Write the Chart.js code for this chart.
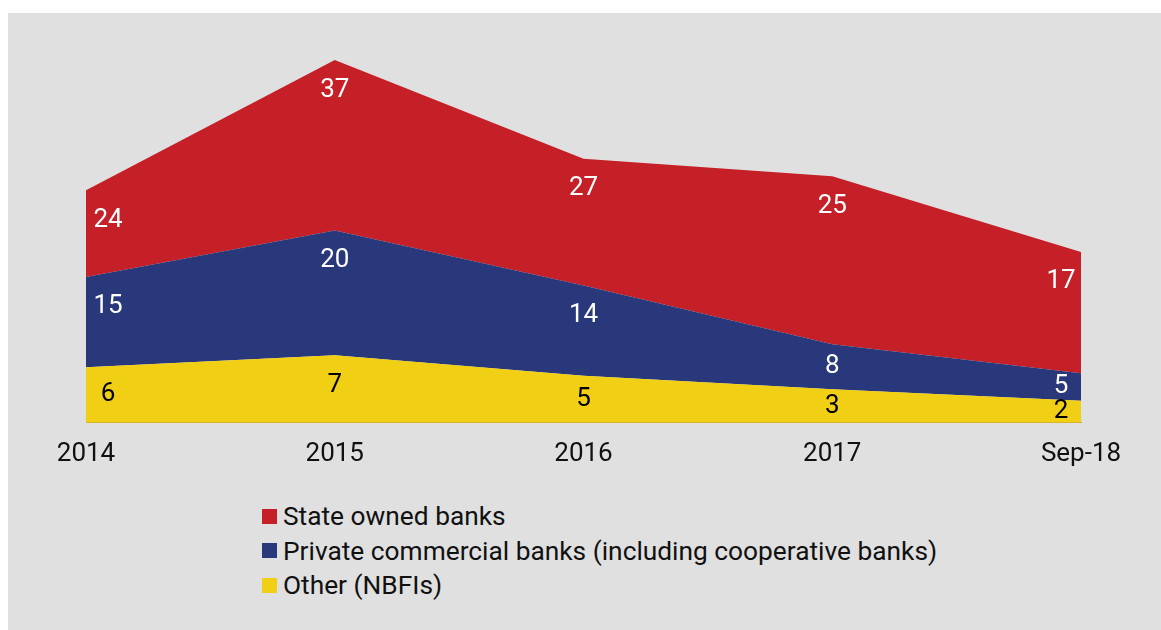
<!DOCTYPE html>
<html>
<head>
<meta charset="utf-8">
<script src="https://cdn.jsdelivr.net/npm/chart.js@4.4.1/dist/chart.umd.min.js"></script>
<style>
html,body{margin:0;padding:0;background:#ffffff;width:1161px;height:630px;overflow:hidden;font-family:Roboto,"Noto Sans",sans-serif}
#panel{position:absolute;left:8px;top:13px;width:1153px;height:617px;background:#e0e0e0}
#chart{position:absolute;left:0;top:0}
#legend{position:absolute;left:254px;top:488px}
.row{position:absolute;left:0;height:30px;display:flex;align-items:center;white-space:nowrap;font-size:26.3px;color:#111}
.sw{width:15px;height:15px;margin-right:6px;flex:none}
</style>
</head>
<body>
<div id="panel">
  <canvas id="chart" width="1153" height="487"></canvas>
  <div id="legend"></div>
</div>
<script>
// Categories (x axis tick labels)
const categories = ['2014', '2015', '2016', '2017', 'Sep-18'];

// Plotted band heights (arbitrary units)
const otherValues   = [11.1, 13.5, 9.4, 6.7, 4.4];
const privateValues = [18.0, 24.9, 18.0, 9.0, 5.5];
const stateValues   = [17.3, 34.0, 25.3, 33.5, 24.2];

// Printed data labels
const otherLabels   = [6, 7, 5, 3, 2];
const privateLabels = [15, 20, 14, 8, 5];
const stateLabels   = [24, 37, 27, 25, 17];

// Series names
const seriesNames = ['Other (NBFIs)', 'Private commercial banks (including cooperative banks)', 'State owned banks'];

const colors = { other: '#f0cf15', private: '#29387b', state: '#c52028' };

const datasets = [
  { label: seriesNames[0], data: otherValues, backgroundColor: colors.other, fill: 'origin', labelsText: otherLabels, labelColor: '#000000' },
  { label: seriesNames[1], data: privateValues, backgroundColor: colors.private, fill: '-1', labelsText: privateLabels, labelColor: '#ffffff' },
  { label: seriesNames[2], data: stateValues, backgroundColor: colors.state, fill: '-1', labelsText: stateLabels, labelColor: '#ffffff' }
];
datasets.forEach(d => { d.borderWidth = 0; d.pointRadius = 0; d.pointHoverRadius = 0; d.tension = 0; d.borderColor = d.backgroundColor; });

const labelPlugin = {
  id: 'bandLabels',
  afterDatasetsDraw(chart) {
    const ctx = chart.ctx;
    const yScale = chart.scales.y;
    const base = yScale.getPixelForValue(0);
    ctx.save();
    ctx.font = '26px Roboto, "Noto Sans", sans-serif';
    ctx.textAlign = 'center';
    ctx.textBaseline = 'middle';
    chart.data.datasets.forEach((ds, i) => {
      const meta = chart.getDatasetMeta(i);
      const prev = i > 0 ? chart.getDatasetMeta(i - 1) : null;
      meta.data.forEach((pt, j) => {
        const top = pt.y;
        const bottom = prev ? prev.data[j].y : base;
        const band = bottom - top;
        const y = top + Math.min(30, band / 2);
        let x = pt.x;
        if (j === 0) x += 22;
        if (j === meta.data.length - 1) x -= 20;
        ctx.fillStyle = ds.labelColor;
        ctx.fillText(String(ds.labelsText[j]), x, y);
      });
    });
    ctx.restore();
  }
};

new Chart(document.getElementById('chart'), {
  type: 'line',
  data: { labels: categories, datasets: datasets },
  options: {
    responsive: false,
    devicePixelRatio: 1,
    animation: false,
    events: [],
    layout: { padding: { left: 78, right: 80, top: 29, bottom: 14 } },
    plugins: { legend: { display: false }, tooltip: { enabled: false } },
    scales: {
      x: {
        offset: false,
        grid: { display: false, drawTicks: false },
        border: { display: true, color: '#c4a235', width: 1 },
        ticks: { color: '#111111', font: { family: 'Roboto', size: 26 }, padding: 16, maxRotation: 0, autoSkip: false }
      },
      y: {
        display: false,
        stacked: true,
        min: 0,
        max: 76
      }
    }
  },
  plugins: [labelPlugin]
});

// HTML legend (State, Private, Other from top)
const legend = document.getElementById('legend');
[2, 1, 0].forEach((idx, r) => {
  const row = document.createElement('div');
  row.className = 'row';
  row.style.top = (r * 34.5) + 'px';
  const sw = document.createElement('span');
  sw.className = 'sw';
  sw.style.background = datasets[idx].backgroundColor;
  const tx = document.createElement('span');
  tx.textContent = datasets[idx].label;
  row.appendChild(sw);
  row.appendChild(tx);
  legend.appendChild(row);
});
</script>
</body>
</html>
